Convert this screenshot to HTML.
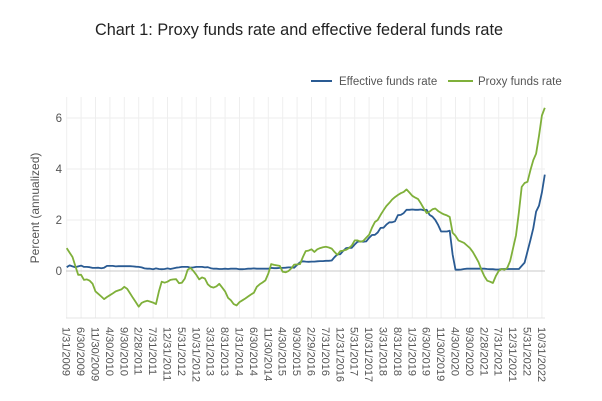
<!DOCTYPE html>
<html><head><meta charset="utf-8"><style>
body{margin:0;background:#fff;}
svg{display:block;font-family:"Liberation Sans",sans-serif;}
</style></head><body>
<svg id="chart" width="602" height="401" viewBox="0 0 602 401" xmlns="http://www.w3.org/2000/svg">
<text x="95" y="35" font-size="16.5" fill="#222" textLength="408" lengthAdjust="spacingAndGlyphs">Chart 1: Proxy funds rate and effective federal funds rate</text>
<g>
<g><line x1="311" y1="81" x2="332" y2="81" stroke="#2a5b93" stroke-width="2"/><text x="339" y="85" font-size="11.5" fill="#555">Effective funds rate</text></g>
<g><line x1="448" y1="81" x2="473" y2="81" stroke="#7fb03a" stroke-width="2"/><text x="478" y="85" font-size="11.5" fill="#555">Proxy funds rate</text></g>
</g>
<text transform="translate(39,208) rotate(-90)" text-anchor="middle" font-size="12" fill="#555">Percent (annualized)</text>
<g id="grid"></g><g id="axes"></g><g id="series"></g>
</svg>
<script>
const xLabels=["1/31/2009","6/30/2009","11/30/2009","4/30/2010","9/30/2010","2/28/2011","7/31/2011","12/31/2011","5/31/2012","10/31/2012","3/31/2013","8/31/2013","1/31/2014","6/30/2014","11/30/2014","4/30/2015","9/30/2015","2/29/2016","7/31/2016","12/31/2016","5/31/2017","10/31/2017","3/31/2018","8/31/2018","1/31/2019","6/30/2019","11/30/2019","4/30/2020","9/30/2020","2/28/2021","7/31/2021","12/31/2021","5/31/2022","10/31/2022"];
const yTicks=[0,2,4,6];
const effective=[0.15,0.22,0.18,0.15,0.18,0.21,0.16,0.16,0.15,0.12,0.12,0.13,
0.11,0.13,0.2,0.2,0.2,0.18,0.19,0.19,0.19,0.19,0.19,0.18,
0.17,0.16,0.14,0.1,0.09,0.09,0.07,0.1,0.08,0.07,0.08,0.1,
0.08,0.1,0.13,0.14,0.16,0.16,0.16,0.13,0.14,0.16,0.16,0.16,
0.14,0.15,0.11,0.09,0.09,0.08,0.08,0.09,0.08,0.09,0.09,0.09,
0.07,0.07,0.08,0.09,0.09,0.1,0.09,0.09,0.09,0.09,0.09,0.12,
0.11,0.11,0.12,0.12,0.13,0.14,0.14,0.13,0.24,0.34,0.38,0.37,
0.36,0.37,0.37,0.38,0.39,0.39,0.4,0.4,0.41,0.54,0.65,0.66,
0.79,0.9,0.91,0.91,1.04,1.15,1.16,1.15,1.16,1.3,1.41,1.42,
1.51,1.69,1.7,1.82,1.91,1.91,1.95,2.19,2.2,2.27,2.4,2.4,
2.41,2.4,2.4,2.41,2.38,2.4,2.2,2.13,2.0,1.8,1.55,1.55,
1.55,1.58,0.65,0.05,0.05,0.06,0.08,0.09,0.09,0.09,0.09,0.09,
0.09,0.09,0.08,0.07,0.07,0.06,0.06,0.08,0.08,0.08,0.08,0.08,
0.08,0.08,0.2,0.33,0.77,1.21,1.68,2.33,2.56,3.08,3.78];
const proxy=[0.9,0.72,0.55,0.2,-0.15,-0.15,-0.35,-0.33,-0.38,-0.5,-0.8,-0.9,
-1.0,-1.1,-1.02,-0.95,-0.88,-0.8,-0.76,-0.72,-0.62,-0.7,-0.88,-1.05,
-1.22,-1.4,-1.25,-1.2,-1.17,-1.2,-1.24,-1.3,-0.8,-0.42,-0.46,-0.42,
-0.35,-0.33,-0.32,-0.48,-0.46,-0.3,0.05,0.12,0.0,-0.15,-0.33,-0.25,
-0.3,-0.52,-0.62,-0.65,-0.6,-0.5,-0.65,-0.8,-1.05,-1.15,-1.3,-1.35,
-1.22,-1.15,-1.08,-1.0,-0.92,-0.85,-0.62,-0.52,-0.45,-0.37,-0.1,0.27,
0.24,0.22,0.2,-0.03,-0.05,0.0,0.1,0.25,0.26,0.27,0.55,0.78,
0.8,0.85,0.75,0.85,0.9,0.93,0.95,0.92,0.88,0.75,0.63,0.78,
0.8,0.83,0.9,1.0,1.2,1.2,1.15,1.18,1.3,1.42,1.7,1.92,
2.0,2.2,2.38,2.55,2.67,2.8,2.9,2.98,3.05,3.1,3.2,3.08,
2.95,2.88,2.82,2.65,2.45,2.27,2.33,2.42,2.45,2.35,2.28,2.22,
2.18,2.12,1.5,1.38,1.2,1.15,1.1,1.0,0.9,0.75,0.55,0.35,
0.05,-0.2,-0.38,-0.42,-0.47,-0.2,0.0,0.08,0.05,0.12,0.4,0.9,
1.4,2.3,3.3,3.45,3.5,3.95,4.35,4.6,5.3,6.1,6.4];
const labelStep=5;
const NS="http://www.w3.org/2000/svg";
const X0=66.7,MW=2.88,L=66,R=545,T=97,B=318,Y0=271,YU=25.5;
const xs=i=>X0+i*MW, ys=v=>Y0-v*YU;
function mk(t,a,p){const e=document.createElementNS(NS,t);for(const k in a)e.setAttribute(k,a[k]);p.appendChild(e);return e;}
const grid=document.getElementById('grid'),axes=document.getElementById('axes'),series=document.getElementById('series');
xLabels.forEach((lab,j)=>{const x=xs(j*labelStep);
 const g=mk('line',{x1:x,y1:T,x2:x,y2:B,stroke:'#eeeeee','stroke-width':1},grid);
 
 
 const t=mk('text',{transform:`translate(${x-4},${B+9}) rotate(90)`,'font-size':11,fill:'#555'},axes);
 t.textContent=lab;
 
 
});
yTicks.forEach(v=>{const y=ys(v);
 const g=mk('line',{x1:L,y1:y,x2:R,y2:y,stroke:v===0?'#c8c8c8':'#eeeeee','stroke-width':1},grid);
 
 
 const t=mk('text',{x:62,y:y+4,'text-anchor':'end','font-size':11.5,fill:'#555'},axes);
 t.textContent=v;
 
 
});
const ax=mk('line',{x1:L,y1:B,x2:R,y2:B,stroke:'#e4e4e4','stroke-width':1},axes);


function path(d,c,name){const p=mk('path',{d:d.map((v,i)=>(i?'L':'M')+xs(i).toFixed(1)+','+ys(v).toFixed(1)).join(''),fill:'none',stroke:c,'stroke-width':1.8,'stroke-linejoin':'round'},series);
 
 }
path(effective,'#2a5b93','effective-funds-rate-line');
path(proxy,'#7fb03a','proxy-funds-rate-line');
</script>
</body></html>
